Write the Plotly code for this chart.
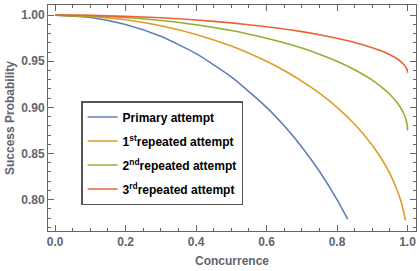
import plotly.graph_objects as go

# Concurrence grid and success probabilities
conc_primary = [0.0, 0.1, 0.2, 0.3, 0.4, 0.5, 0.6, 0.65, 0.7, 0.75, 0.8, 0.83]
primary = [1.0, 0.9975, 0.9899, 0.9770, 0.9583, 0.9330, 0.9000, 0.8800, 0.8571, 0.8307, 0.8000, 0.7789]

conc_first = [0.0, 0.1, 0.2, 0.3, 0.4, 0.5, 0.6, 0.65, 0.7, 0.75, 0.8, 0.85, 0.9, 0.93, 0.95, 0.97, 0.98, 0.99, 0.994]
first = [1.0, 0.9987, 0.9950, 0.9885, 0.9791, 0.9665, 0.9500, 0.9400, 0.9285, 0.9154, 0.9000, 0.8817, 0.8590, 0.8419, 0.8281, 0.8108, 0.7998, 0.7853, 0.7774]

conc_full = [0.0, 0.1, 0.2, 0.3, 0.4, 0.5, 0.6, 0.65, 0.7, 0.75, 0.8, 0.85, 0.9, 0.93, 0.95, 0.97, 0.98, 0.99, 0.995, 0.998, 0.9995, 0.9999, 1.0]
second = [1.0, 0.9994, 0.9975, 0.9942, 0.9896, 0.9833, 0.9750, 0.9700, 0.9643, 0.9577, 0.9500, 0.9408, 0.9295, 0.9209, 0.9140, 0.9054, 0.8999, 0.8926, 0.8875, 0.8829, 0.8790, 0.8768, 0.8750]
third = [1.0, 0.9997, 0.9987, 0.9971, 0.9948, 0.9916, 0.9875, 0.9850, 0.9821, 0.9788, 0.9750, 0.9704, 0.9647, 0.9605, 0.9570, 0.9527, 0.9499, 0.9463, 0.9437, 0.9415, 0.9395, 0.9384, 0.9375]

names = ["Primary attempt", "1<sup>st</sup>repeated attempt",
         "2<sup>nd</sup>repeated attempt", "3<sup>rd</sup>repeated attempt"]
colors = ["#5E81B5", "#E19C24", "#8FB032", "#EB6235"]

x_ticks = [0.0, 0.2, 0.4, 0.6, 0.8, 1.0]
x_ticklabels = ["0.0", "0.2", "0.4", "0.6", "0.8", "1.0"]
y_ticks = [0.80, 0.85, 0.90, 0.95, 1.00]
y_ticklabels = ["0.80", "0.85", "0.90", "0.95", "1.00"]

label_color = "#5f6570"
fnt = "Liberation Sans, Arial"

fig = go.Figure()
for i, (xs, ys, nm, c) in enumerate(zip([conc_primary, conc_first, conc_full, conc_full],
                                        [primary, first, second, third], names, colors)):
    fig.add_trace(go.Scatter(x=xs, y=ys, mode="lines", name=nm, legendgroup=f"g{i}",
                             line=dict(color=c, width=1.6, shape="spline", smoothing=0.6)))

axis_common = dict(
    showline=True, linecolor="#666666", linewidth=1, mirror="ticks",
    ticks="inside", ticklen=6, tickcolor="#666666", tickwidth=1,
    showgrid=False, zeroline=False,
    tickfont=dict(family=fnt, size=12, color=label_color, weight="bold"),
)

fig.update_xaxes(range=[-0.02, 1.024], tickvals=x_ticks, ticktext=x_ticklabels,
                 minor=dict(dtick=0.05, ticks="inside", ticklen=3, tickcolor="#666666"),
                 title=dict(text="Concurrence", standoff=8,
                            font=dict(family=fnt, size=12, color=label_color, weight="bold")),
                 **axis_common)
fig.update_yaxes(range=[0.766, 1.011], tickvals=y_ticks, ticktext=y_ticklabels,
                 minor=dict(dtick=0.01, ticks="inside", ticklen=3, tickcolor="#666666"),
                 title=dict(text="Success Probability", standoff=4,
                            font=dict(family=fnt, size=12, color=label_color, weight="bold")),
                 **axis_common)

fig.update_layout(
    width=420, height=271,
    margin=dict(l=48, r=4, t=5, b=40),
    plot_bgcolor="white", paper_bgcolor="white",
    legend=dict(x=0.09, y=0.575, xanchor="left", yanchor="top",
                bgcolor="white", bordercolor="#555555", borderwidth=1.5,
                font=dict(family=fnt, size=12, color="black", weight="bold"),
                tracegroupgap=5, itemwidth=30),
    showlegend=True,
)

fig.write_html("out.html", config={"displayModeBar": False},
               post_script="document.body.style.margin='0';document.body.style.padding='0';")
